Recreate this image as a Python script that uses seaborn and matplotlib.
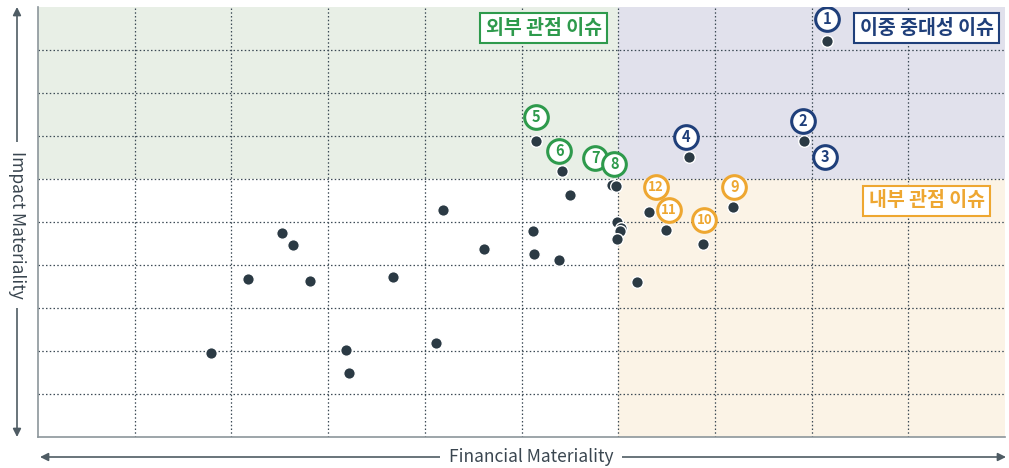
import pandas as pd
import matplotlib.pyplot as plt
import seaborn as sns

# issue scatter: financial materiality (x) vs impact materiality (y), 0-10 scale
fin = [8.16, 7.92, 6.73, 5.15, 5.42, 5.94, 5.98, 7.19, 6.88, 6.49, 6.32,
       5.50, 4.19, 5.12, 5.99, 6.03, 6.02, 5.99, 4.61, 5.13, 5.39,
       2.52, 2.64, 2.17, 2.81, 3.67, 6.19, 1.79, 3.18, 3.22, 4.12]
imp = [9.21, 6.88, 6.51, 6.88, 6.19, 5.86, 5.84, 5.35, 4.49, 4.81, 5.23,
       5.63, 5.28, 4.79, 5.00, 4.86, 4.79, 4.60, 4.37, 4.26, 4.12,
       4.74, 4.47, 3.67, 3.63, 3.72, 3.60, 1.95, 2.02, 1.49, 2.19]

# numbered issues -> index of point
issue_no = ['1', '2', '3', '4', '5', '6', '7', '8', '9', '10', '11', '12']
issue_pt = [0, 1, 1, 2, 3, 4, 5, 6, 7, 8, 9, 10]
issue_grp = ['double'] * 4 + ['outside'] * 4 + ['inside'] * 4

quad_names = {'outside': '외부 관점 이슈', 'double': '이중 중대성 이슈', 'inside': '내부 관점 이슈'}

df = pd.DataFrame({'fin': fin, 'imp': imp})

colors = {'double': '#1f3f7a', 'outside': '#2e9a4c', 'inside': '#eea731'}
# label offset from its dot, in pixels
label_off = [(0, 22), (-1, 20), (21, -16), (-3, 20), (0, 24), (-3, 20),
             (-17, 27), (-2, 22), (1, 20), (1, 24), (3, 20), (7, 25)]

sns.set_style('white')
plt.rcParams['font.family'] = ['Noto Sans CJK KR', 'DejaVu Sans']

fig = plt.figure(figsize=(10.09, 4.68), dpi=100)
ax = fig.add_axes([38 / 1009, 31 / 468, 967 / 1009, 430 / 468])

ax.fill_between([0, 6], 6, 10, color='#e8efe6', zorder=0, lw=0)
ax.fill_between([6, 10], 6, 10, color='#e1e1ec', zorder=0, lw=0)
ax.fill_between([6, 10], 0, 6, color='#fbf3e6', zorder=0, lw=0)

ax.set_xlim(0, 10)
ax.set_ylim(0, 10)
ax.set_xticks(range(1, 10))
ax.set_yticks(range(1, 10))
ax.grid(True, linestyle=(0, (1.2, 1.8)), color='#3c4a55', lw=0.9)
ax.set_axisbelow(True)
ax.tick_params(length=0, labelbottom=False, labelleft=False)
for s in ['top', 'right']:
    ax.spines[s].set_visible(False)
for s in ['left', 'bottom']:
    ax.spines[s].set_color('#8c969b')
    ax.spines[s].set_linewidth(1.2)

sns.scatterplot(data=df, x='fin', y='imp', ax=ax, s=70, color='#2b3a44',
                edgecolor='white', linewidth=1, zorder=3, legend=False)
ax.set_xlabel('')
ax.set_ylabel('')

px_x = 967 / 10
px_y = 430 / 10
for no, pi, grp, off in zip(issue_no, issue_pt, issue_grp, label_off):
    c = colors[grp]
    lx = fin[pi] + off[0] / px_x
    ly = imp[pi] + off[1] / px_y
    ax.scatter([lx], [ly], s=290, facecolor='white', edgecolor=c, linewidth=2.2, zorder=5)
    ax.text(lx, ly, no, ha='center', va='center', fontsize=10.5 if len(no) == 1 else 9.5,
            fontweight='bold', color=c, zorder=6)

quad_pos = {'outside': (5.23, 9.51), 'double': (9.19, 9.51), 'inside': (9.19, 5.49)}
for grp, (qx, qy) in quad_pos.items():
    ax.text(qx, qy, quad_names[grp], ha='center', va='center', fontsize=14,
            fontweight='bold', color=colors[grp], zorder=6,
            bbox=dict(boxstyle='square,pad=0.28', fc='white', ec=colors[grp], lw=1.5))

# axis arrows
arr = dict(arrowstyle='<|-|>', color='#4f5c64', lw=1.2, mutation_scale=12, shrinkA=0, shrinkB=0)
ax.annotate('', xy=(40 / 1009, 11 / 468), xytext=(1006 / 1009, 11 / 468),
            xycoords='figure fraction', textcoords='figure fraction', arrowprops=arr,
            annotation_clip=False)
ax.annotate('', xy=(17 / 1009, 461 / 468), xytext=(17 / 1009, 31 / 468),
            xycoords='figure fraction', textcoords='figure fraction', arrowprops=arr,
            annotation_clip=False)
fig.text(531 / 1009, 11 / 468, 'Financial Materiality', ha='center', va='center',
         fontsize=12.5, color='#3a4650',
         bbox=dict(boxstyle='square,pad=0.5', fc='white', ec='none'))
fig.text(17 / 1009, 243 / 468, 'Impact Materiality', ha='center', va='center',
         rotation=270, fontsize=12.5, color='#3a4650',
         bbox=dict(boxstyle='square,pad=0.5', fc='white', ec='none'))

fig.savefig('out.png', dpi=100)
